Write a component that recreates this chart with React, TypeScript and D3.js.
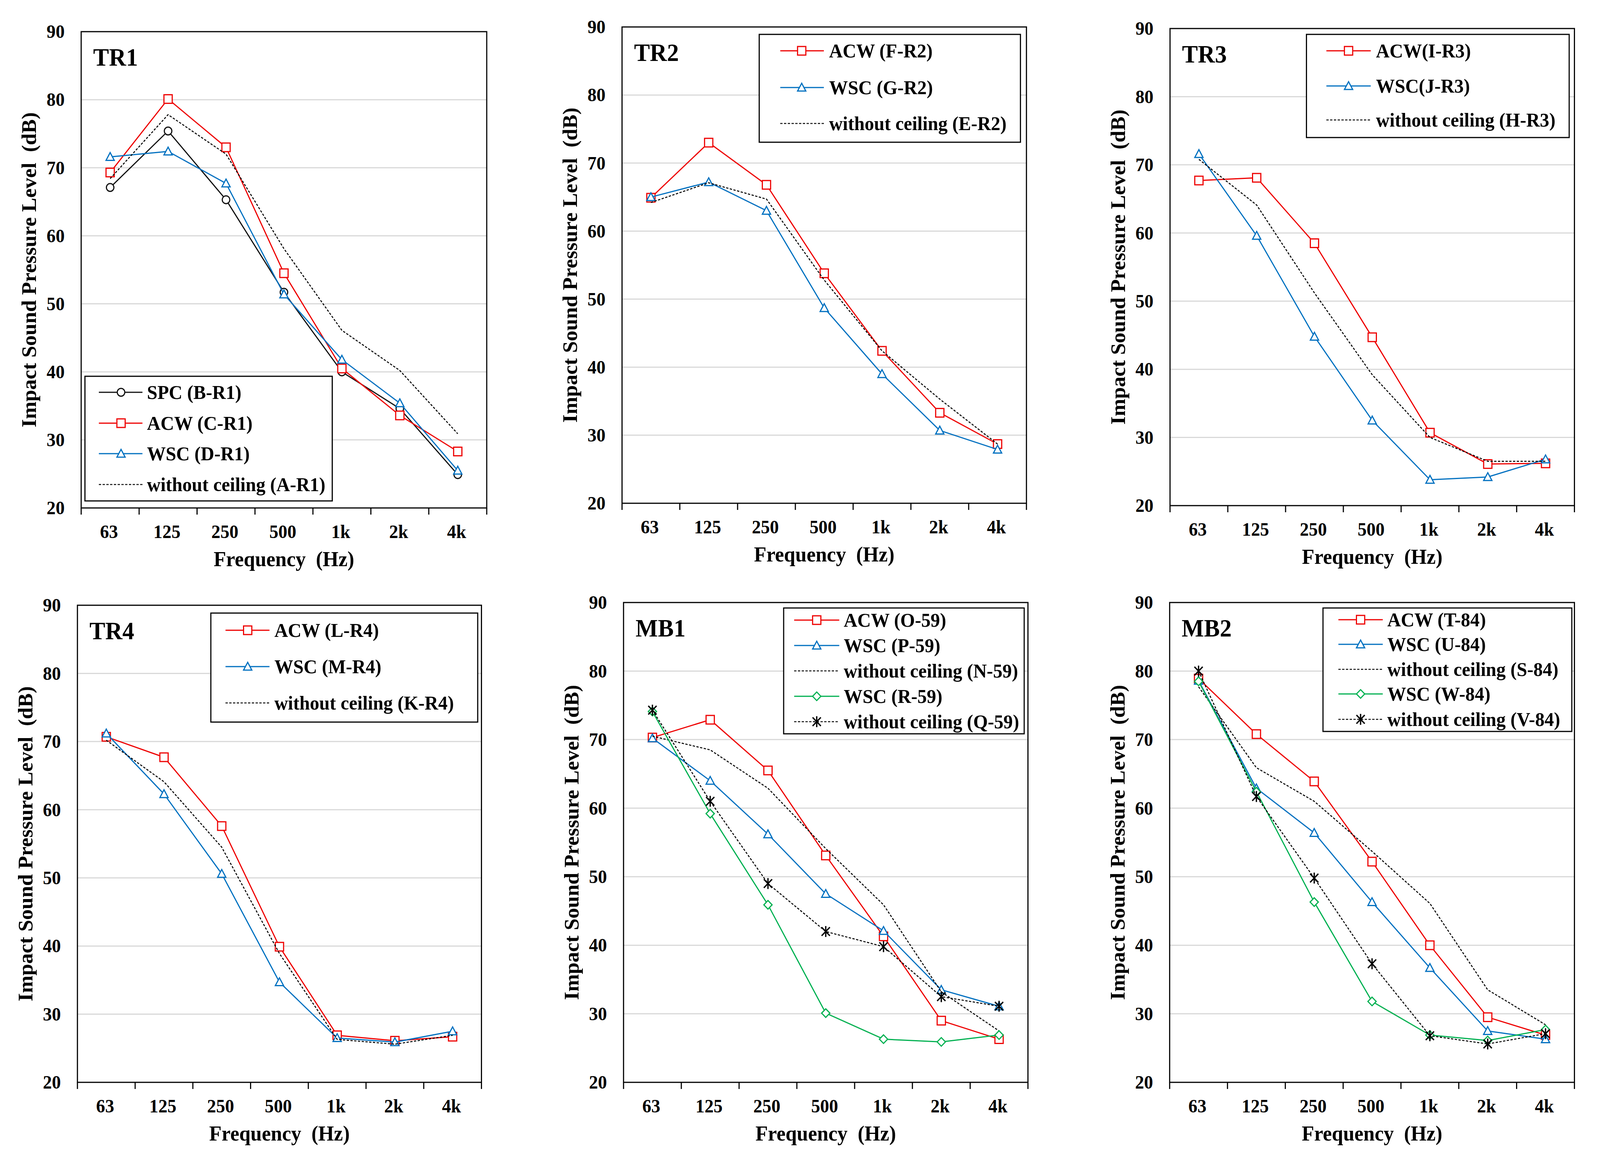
import React from "react";
import * as d3 from "d3";

// ---------- data ----------
const categories = ["63", "125", "250", "500", "1k", "2k", "4k"];
const yTicks = [20, 30, 40, 50, 60, 70, 80, 90];
const gridValues = [30, 40, 50, 60, 70, 80];

// TR1
const tr1SPC = [67.1, 75.4, 65.3, 51.7, 40.0, 34.6, 24.9];
const tr1ACW = [69.3, 80.1, 73.0, 54.5, 40.5, 33.6, 28.3];
const tr1WSC = [71.6, 72.4, 67.7, 51.4, 41.8, 35.4, 25.5];
const tr1WO = [68.4, 77.8, 72.0, 58.1, 46.1, 40.2, 30.9];
// TR2
const tr2ACW = [64.9, 73.0, 66.8, 53.8, 42.4, 33.3, 28.7];
const tr2WSC = [65.0, 67.2, 63.0, 48.7, 39.0, 30.7, 27.9];
const tr2WO = [64.2, 67.1, 64.7, 52.8, 42.4, 35.3, 28.7];
// TR3
const tr3ACW = [67.7, 68.1, 58.5, 44.7, 30.7, 26.1, 26.2];
const tr3WSC = [71.6, 59.6, 44.8, 32.5, 23.8, 24.2, 26.8];
const tr3WO = [70.8, 64.1, 51.2, 39.2, 30.0, 26.5, 26.5];
// TR4
const tr4ACW = [70.7, 67.7, 57.6, 39.9, 26.9, 26.1, 26.7];
const tr4WSC = [71.2, 62.3, 50.6, 34.7, 26.5, 25.9, 27.5];
const tr4WO = [70.2, 64.1, 54.5, 38.9, 26.3, 25.6, 26.9];
// MB1
const mb1ACW = [70.3, 72.9, 65.5, 53.1, 41.3, 29.0, 26.3];
const mb1WSC = [70.2, 64.0, 56.2, 47.5, 42.1, 33.5, 31.1];
const mb1WO = [70.5, 68.5, 62.9, 54.1, 45.9, 33.2, 27.5];
const mb1WSC2 = [74.1, 59.2, 45.9, 30.1, 26.3, 25.9, 26.9];
const mb1WO2 = [74.3, 61.0, 49.0, 42.0, 39.8, 32.5, 31.1];
// MB2
const mb2ACW = [78.9, 70.8, 63.9, 52.2, 40.0, 29.5, 26.9];
const mb2WSC = [78.6, 62.9, 56.4, 46.3, 36.7, 27.5, 26.3];
const mb2WO = [77.7, 65.9, 61.0, 53.7, 46.1, 33.5, 28.4];
const mb2WSC2 = [78.5, 62.4, 46.3, 31.8, 26.9, 26.1, 27.7];
const mb2WO2 = [80.0, 61.7, 49.8, 37.3, 26.8, 25.6, 27.1];

// ---------- styles ----------
type Kind = "spc" | "acw" | "wsc" | "wo" | "wsc2" | "wo2";
const RED = "#EE0000";
const BLUE = "#0070C0";
const GREEN = "#00B050";
const BLACK = "#000000";
const styleOf: Record<Kind, { color: string; dash?: string; width: number; marker: string }> = {
  spc: { color: "#111111", width: 3, marker: "circle" },
  acw: { color: RED, width: 3, marker: "square" },
  wsc: { color: BLUE, width: 3, marker: "triangle" },
  wo: { color: BLACK, width: 2.6, dash: "6 4", marker: "none" },
  wsc2: { color: GREEN, width: 3, marker: "diamond" },
  wo2: { color: BLACK, width: 2.6, dash: "6 4", marker: "star" },
};

type Series = { name: string; kind: Kind; values: number[] };
type Panel = {
  title: string;
  plot: { x: number; y: number; w: number; h: number };
  legend: { x: number; y: number; w: number; h: number; rows: number[]; line: [number, number]; marker: number; text: number };
  series: Series[];
};

const panels: Panel[] = [
  {
    title: "TR1",
    plot: { x: 216, y: 81, w: 1079, h: 1219 },
    legend: { x: 226, y: 963, w: 658, h: 319, rows: [41, 120, 198, 277], line: [37, 153], marker: 96, text: 165 },
    series: [
      { name: "SPC (B-R1)", kind: "spc", values: tr1SPC },
      { name: "ACW (C-R1)", kind: "acw", values: tr1ACW },
      { name: "WSC (D-R1)", kind: "wsc", values: tr1WSC },
      { name: "without ceiling (A-R1)", kind: "wo", values: tr1WO },
    ],
  },
  {
    title: "TR2",
    plot: { x: 1655, y: 69, w: 1076, h: 1219 },
    legend: { x: 2020, y: 88, w: 695, h: 276, rows: [42, 136, 228], line: [56, 172], marker: 113, text: 186 },
    series: [
      { name: "ACW (F-R2)", kind: "acw", values: tr2ACW },
      { name: "WSC (G-R2)", kind: "wsc", values: tr2WSC },
      { name: "without ceiling (E-R2)", kind: "wo", values: tr2WO },
    ],
  },
  {
    title: "TR3",
    plot: { x: 3113, y: 73, w: 1076, h: 1221 },
    legend: { x: 3476, y: 88, w: 699, h: 264, rows: [42, 132, 219], line: [53, 171], marker: 112, text: 185 },
    series: [
      { name: "ACW(I-R3)", kind: "acw", values: tr3ACW },
      { name: "WSC(J-R3)", kind: "wsc", values: tr3WSC },
      { name: "without ceiling (H-R3)", kind: "wo", values: tr3WO },
    ],
  },
  {
    title: "TR4",
    plot: { x: 206, y: 1549, w: 1075, h: 1221 },
    legend: { x: 561, y: 1569, w: 710, h: 279, rows: [44, 137, 230], line: [39, 156], marker: 98, text: 169 },
    series: [
      { name: "ACW (L-R4)", kind: "acw", values: tr4ACW },
      { name: "WSC (M-R4)", kind: "wsc", values: tr4WSC },
      { name: "without ceiling (K-R4)", kind: "wo", values: tr4WO },
    ],
  },
  {
    title: "MB1",
    plot: { x: 1659, y: 1542, w: 1076, h: 1228 },
    legend: { x: 2085, y: 1556, w: 640, h: 322, rows: [31, 96, 161, 226, 291], line: [28, 148], marker: 88, text: 160 },
    series: [
      { name: "ACW (O-59)", kind: "acw", values: mb1ACW },
      { name: "WSC (P-59)", kind: "wsc", values: mb1WSC },
      { name: "without ceiling (N-59)", kind: "wo", values: mb1WO },
      { name: "WSC (R-59)", kind: "wsc2", values: mb1WSC2 },
      { name: "without ceiling (Q-59)", kind: "wo2", values: mb1WO2 },
    ],
  },
  {
    title: "MB2",
    plot: { x: 3112, y: 1542, w: 1077, h: 1228 },
    legend: { x: 3520, y: 1556, w: 662, h: 316, rows: [30, 93, 157, 220, 285], line: [41, 159], marker: 100, text: 171 },
    series: [
      { name: "ACW (T-84)", kind: "acw", values: mb2ACW },
      { name: "WSC (U-84)", kind: "wsc", values: mb2WSC },
      { name: "without ceiling (S-84)", kind: "wo", values: mb2WO },
      { name: "WSC (W-84)", kind: "wsc2", values: mb2WSC2 },
      { name: "without ceiling (V-84)", kind: "wo2", values: mb2WO2 },
    ],
  },
];

const FONT = "'Liberation Serif', 'Times New Roman', serif";

function Marker({ kind, x, y }: { kind: Kind; x: number; y: number }) {
  const s = styleOf[kind];
  const sw = 3;
  switch (s.marker) {
    case "circle":
      return <circle cx={x} cy={y} r={10} fill="#fff" stroke={s.color} strokeWidth={sw} />;
    case "square":
      return <rect x={x - 11} y={y - 11} width={22} height={22} fill="#fff" stroke={s.color} strokeWidth={sw} />;
    case "triangle":
      return <path d={`M${x},${y - 11}L${x + 11},${y + 9}L${x - 11},${y + 9}Z`} fill="#fff" stroke={s.color} strokeWidth={sw} />;
    case "diamond":
      return <path d={`M${x},${y - 11}L${x + 11},${y}L${x},${y + 11}L${x - 11},${y}Z`} fill="#fff" stroke={s.color} strokeWidth={sw} />;
    case "star":
      return (
        <path
          d={`M${x},${y - 14}L${x},${y + 14}M${x - 11},${y - 11}L${x + 11},${y + 11}M${x - 11},${y + 11}L${x + 11},${y - 11}`}
          stroke={s.color}
          strokeWidth={3.5}
          fill="none"
        />
      );
    default:
      return null;
  }
}

function PanelView({ p }: { p: Panel }) {
  const { x, y, w, h } = p.plot;
  const xs = d3.scaleBand<string>().domain(categories).range([x, x + w]).padding(0);
  const ys = d3.scaleLinear().domain([20, 90]).range([y + h, y]);
  const cx = (c: string) => (xs(c) as number) + xs.bandwidth() / 2;
  const line = d3
    .line<number>()
    .x((_, i) => cx(categories[i]))
    .y((v) => ys(v));
  const boundaries = categories.map((c) => xs(c) as number).concat([x + w]);
  const L = p.legend;

  return (
    <g>
      {gridValues.map((g) => (
        <line key={g} x1={x} x2={x + w} y1={ys(g)} y2={ys(g)} stroke="#D9D9D9" strokeWidth={3} />
      ))}
      {yTicks.map((t) => (
        <text
          key={t}
          x={x - 44}
          y={ys(t)}
          textAnchor="end"
          dominantBaseline="central"
          fontFamily={FONT}
          fontWeight="bold"
          fontSize={48}
        >
          {t}
        </text>
      ))}
      {boundaries.map((b, i) => (
        <line key={i} x1={b} x2={b} y1={y + h} y2={y + h + 17} stroke="#000" strokeWidth={3} />
      ))}
      {categories.map((c) => (
        <text key={c} x={cx(c) - 3} y={y + h + 77} textAnchor="middle" fontFamily={FONT} fontWeight="bold" fontSize={48}>
          {c}
        </text>
      ))}
      <text
        x={x + w / 2}
        y={y + h + 149}
        textAnchor="middle"
        fontFamily={FONT}
        fontWeight="bold"
        fontSize={54}
        style={{ whiteSpace: "pre" }}
      >
        {"Frequency  (Hz)"}
      </text>
      <text
        transform={`translate(${x - 120},${y + h / 2}) rotate(-90)`}
        textAnchor="middle"
        fontFamily={FONT}
        fontWeight="bold"
        fontSize={54}
        style={{ whiteSpace: "pre" }}
      >
        {"Impact Sound Pressure Level  (dB)"}
      </text>
      {p.series.map((s, si) => {
        const st = styleOf[s.kind];
        return (
          <g key={si}>
            <path
              d={line(s.values) || ""}
              fill="none"
              stroke={st.color}
              strokeWidth={st.width}
              strokeDasharray={st.dash}
              strokeLinejoin="round"
            />
            {s.values.map((v, i) => (
              <Marker key={i} kind={s.kind} x={cx(categories[i])} y={ys(v)} />
            ))}
          </g>
        );
      })}
      <rect x={x} y={y} width={w} height={h} fill="none" stroke="#000" strokeWidth={3} />
      <text x={x + 32} y={y + 87} fontFamily={FONT} fontWeight="bold" fontSize={63}>
        {p.title}
      </text>
      <rect x={L.x} y={L.y} width={L.w} height={L.h} fill="#fff" stroke="#000" strokeWidth={3} />
      {p.series.map((s, si) => {
        const st = styleOf[s.kind];
        const ry = L.y + L.rows[si];
        return (
          <g key={si}>
            <line
              x1={L.x + L.line[0]}
              x2={L.x + L.line[1]}
              y1={ry}
              y2={ry}
              stroke={st.color}
              strokeWidth={st.width}
              strokeDasharray={st.dash}
            />
            <Marker kind={s.kind} x={L.x + L.marker} y={ry} />
            <text
              x={L.x + L.text}
              y={ry}
              dominantBaseline="central"
              fontFamily={FONT}
              fontWeight="bold"
              fontSize={50}
            >
              {s.name}
            </text>
          </g>
        );
      })}
    </g>
  );
}

export default function App() {
  return (
    <svg
      viewBox="0 0 4257 2979"
      preserveAspectRatio="none"
      style={{ position: "fixed", left: 0, top: 0, width: "100vw", height: "100vh", background: "#fff", display: "block" }}
    >
      <rect x={0} y={0} width={4257} height={2979} fill="#fff" />
      {panels.map((p) => (
        <PanelView key={p.title} p={p} />
      ))}
    </svg>
  );
}
